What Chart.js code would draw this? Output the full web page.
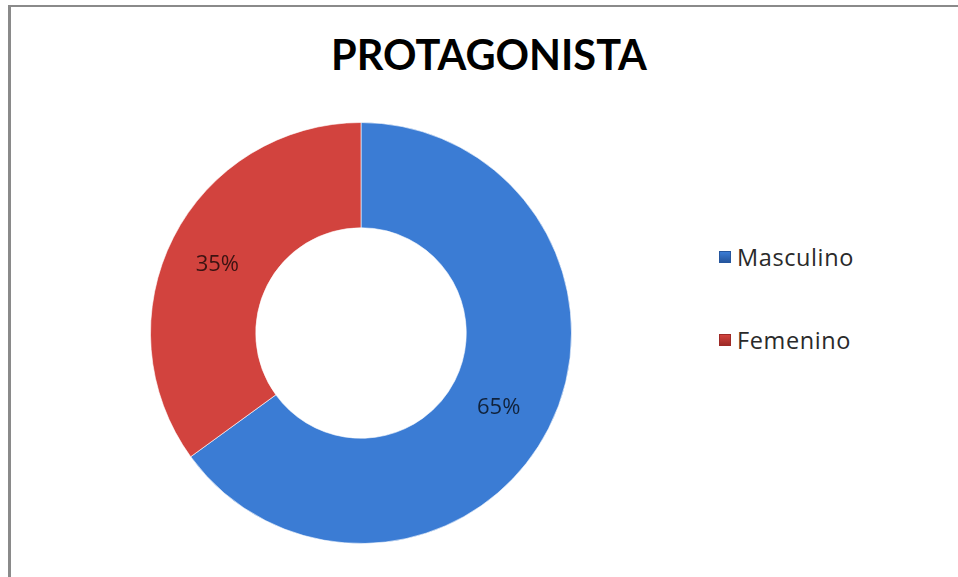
<!DOCTYPE html>
<html>
<head>
<meta charset="utf-8">
<script src="https://cdn.jsdelivr.net/npm/chart.js@4"></script>
<style>
    html, body { margin: 0; padding: 0; background: #fff; }
    #wrap { position: relative; width: 958px; height: 577px; overflow: hidden; }
    #frame {
        position: absolute; left: 8px; top: 5px; width: 1000px; height: 700px;
        border-top: 2px solid #8a8a8a; border-left: 3px solid #8a8a8a;
    }
    #title {
        position: absolute; left: 0; top: 29px; width: 978px; text-align: center;
        font-family: Lato, "Open Sans", sans-serif; font-weight: bold; font-size: 41.5px; color: #000;
    }
    #legend { position: absolute; left: 719px; top: 241px; font-family: "Open Sans", Lato, sans-serif; font-size: 23.5px; letter-spacing: 0.6px; color: #2a2a2a; }
    .item { display: flex; align-items: center; height: 32px; margin-bottom: 51px; }
    .box { width: 12px; height: 12px; margin-right: 6px; box-sizing: border-box; }
    canvas { position: absolute; left: 0; top: 0; }
</style>
</head>
<body>
<div id="wrap">
    <div id="frame"></div>
    <div id="title">PROTAGONISTA</div>
    <div id="legend"></div>
    <canvas id="chart" width="958" height="577"></canvas>
</div>
<script>
const chartTitle = 'PROTAGONISTA';
const categories = ['Masculino', 'Femenino'];
const values = [65, 35];
const baseColors = ['#3b7cd4', '#d2433e'];
const edgeColors = ['#25569e', '#9e2a27'];

// legend built from the category list
document.getElementById('legend').innerHTML = categories.map((c, i) => `
    <div class="item">
        <div class="box" style="background: linear-gradient(${baseColors[i]}, ${edgeColors[i]}); border: 1px solid ${edgeColors[i]}"></div>
        <span>${c}</span>
    </div>
`).join('');

function sliceFill(ctx) {
    const chart = ctx.chart;
    const area = chart.chartArea;
    if (!area) return baseColors[ctx.dataIndex];
    const meta = chart.getDatasetMeta(0).data[ctx.dataIndex];
    if (!meta || !meta.outerRadius) return baseColors[ctx.dataIndex];
    const cx = (area.left + area.right) / 2;
    const cy = (area.top + area.bottom) / 2;
    const r0 = meta.innerRadius, r1 = meta.outerRadius;
    const g = chart.ctx.createRadialGradient(cx, cy, r0, cx, cy, r1);
    const base = baseColors[ctx.dataIndex], edge = edgeColors[ctx.dataIndex];
    g.addColorStop(0, edge);
    g.addColorStop(0.05, base);
    g.addColorStop(0.95, base);
    g.addColorStop(1, edge);
    return g;
}

const percentLabels = {
    id: 'percentLabels',
    afterDatasetsDraw(chart) {
        const ctx = chart.ctx;
        const total = values.reduce((a, b) => a + b, 0);
        ctx.save();
        ctx.font = '22px "Open Sans", Lato, sans-serif';
        ctx.fillStyle = 'rgba(0,0,0,0.72)';
        ctx.textAlign = 'center';
        ctx.textBaseline = 'middle';
        chart.getDatasetMeta(0).data.forEach((arc, i) => {
            const p = arc.tooltipPosition();
            ctx.fillText(Math.round(values[i] / total * 100) + '%', p.x - 3, p.y + 3);
        });
        ctx.restore();
    }
};

new Chart(document.getElementById('chart'), {
    type: 'doughnut',
    data: {
        labels: categories,
        datasets: [{
            data: values,
            backgroundColor: sliceFill,
            borderColor: 'rgba(255,255,255,0.6)',
            borderWidth: 1
        }]
    },
    options: {
        responsive: false,
        animation: false,
        cutout: '50%',
        layout: { padding: { left: 150, top: 122, right: 386, bottom: 33 } },
        plugins: {
            legend: { display: false },
            title: { display: false, text: chartTitle },
            tooltip: { enabled: false }
        }
    },
    plugins: [percentLabels]
});
</script>
</body>
</html>
